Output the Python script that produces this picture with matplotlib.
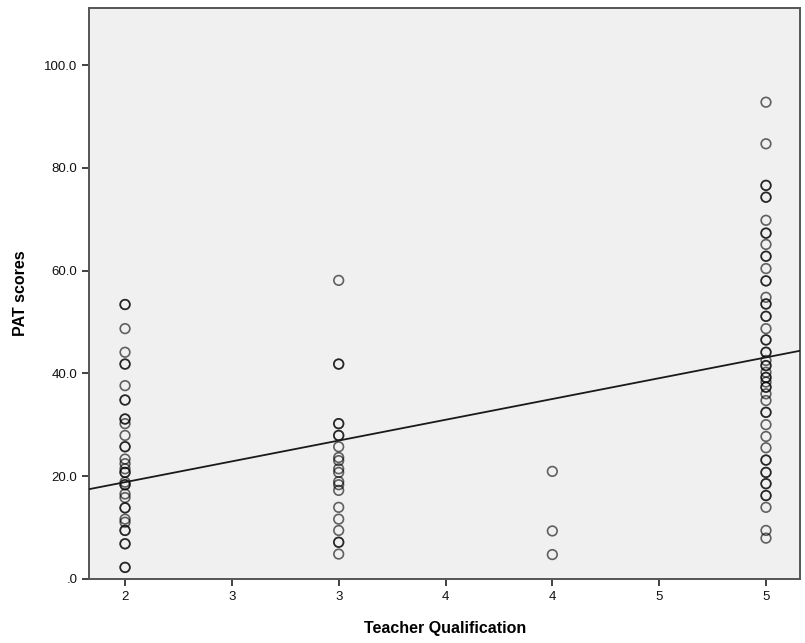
import numpy as np
import matplotlib
matplotlib.use("Agg")
import matplotlib.pyplot as plt

plt.rcParams["font.family"] = ["Liberation Sans", "DejaVu Sans"]

# PAT scores per teacher qualification level (repeated values = overlapping points)
pat_q2 = [53.4, 53.4, 48.7, 44.1, 41.8, 41.8, 37.6, 34.8, 34.8, 31.1, 31.1, 30.2,
          27.9, 25.7, 25.7, 23.3, 22.4, 21.4, 20.7, 20.7, 18.8, 18.3, 18.3, 16.5,
          15.8, 13.8, 13.8, 11.6, 11.0, 9.4, 9.4, 6.8, 6.8, 2.2, 2.2]
pat_q3 = [58.1, 41.8, 41.8, 30.2, 30.2, 27.9, 27.9, 25.7, 23.6, 23.0, 21.4, 20.7,
          18.9, 18.3, 17.2, 13.9, 11.6, 9.4, 7.1, 7.1, 4.8]
pat_q4 = [20.9, 9.3, 4.7]
pat_q5 = [92.8, 84.7, 76.6, 76.6, 74.3, 74.3, 69.8, 67.3, 67.3, 65.1, 62.8, 62.8,
          60.4, 58.0, 58.0, 54.8, 53.5, 53.5, 51.1, 51.1, 48.7, 46.5, 46.5, 44.1,
          44.1, 42.5, 41.5, 41.5, 40.2, 39.2, 39.2, 38.3, 37.3, 37.3, 36.0, 34.7,
          32.4, 32.4, 30.0, 27.7, 25.5, 23.1, 23.1, 20.7, 20.7, 18.5, 18.5, 16.2,
          16.2, 13.9, 9.4, 7.9]

# fit line
fit_intercept = 2.6
fit_slope = 8.1

x_ticks = [2, 2.5, 3, 3.5, 4, 4.5, 5]
x_tick_labels = ["2", "3", "3", "4", "4", "5", "5"]
y_ticks = [0, 20, 40, 60, 80, 100]
y_tick_labels = [".0", "20.0", "40.0", "60.0", "80.0", "100.0"]

fig = plt.figure(figsize=(8.05, 6.43), dpi=100)
ax = fig.add_axes([0.111, 0.1, 0.883, 0.888])
ax.set_facecolor("#f0f0f0")

for q, vals in zip([2, 3, 4, 5], [pat_q2, pat_q3, pat_q4, pat_q5]):
    ax.scatter(np.full(len(vals), q), vals, s=48, facecolors="none",
               edgecolors="black", linewidths=1.2, alpha=0.6, zorder=3)

xmin, xmax = 1.833, 5.16
xs = np.array([xmin, xmax])
ax.plot(xs, fit_intercept + fit_slope * xs, color="#1a1a1a", lw=1.3, zorder=4)

ax.set_xlim(xmin, xmax)
ax.set_ylim(0, 111.2)
ax.set_xticks(x_ticks)
ax.set_xticklabels(x_tick_labels)
ax.set_yticks(y_ticks)
ax.set_yticklabels(y_tick_labels)
ax.tick_params(direction="out", length=5, width=1.3, color="#333333",
               labelsize=9.5, labelcolor="#111111")

for sp in ax.spines.values():
    sp.set_color("#555555")
    sp.set_linewidth(1.4)

ax.set_xlabel("Teacher Qualification", fontsize=11.5, fontweight="bold", labelpad=13)
ax.set_ylabel("PAT scores", fontsize=11.5, fontweight="bold", labelpad=12)

fig.savefig("out.png", dpi=100)
